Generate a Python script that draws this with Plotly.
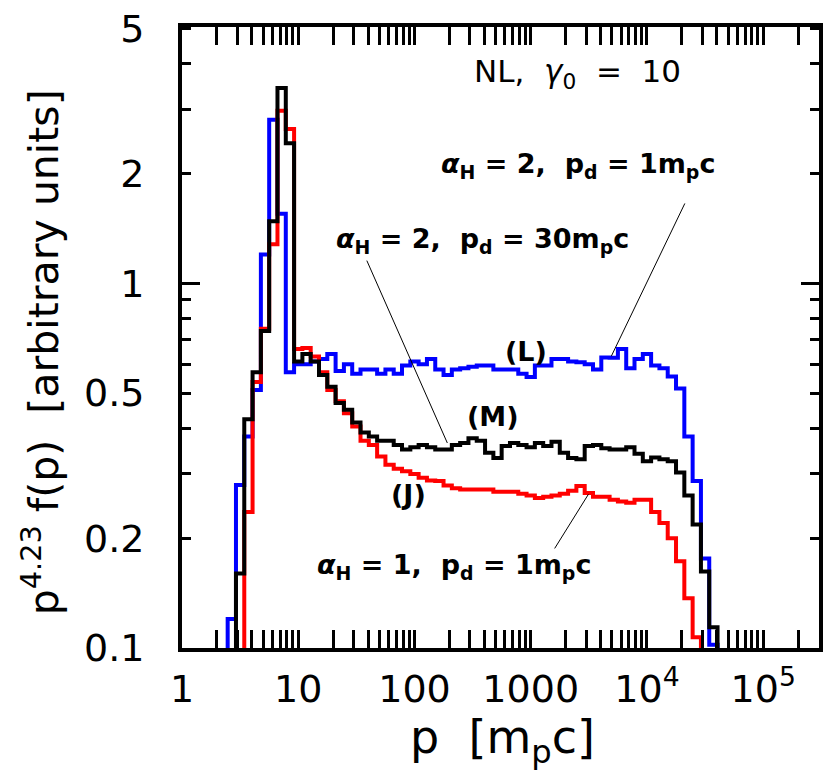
import plotly.graph_objects as go

# ---------------- data (histograms, log-uniform bins) ----------------
BINS_PER_DECADE = 14
BIN_OFFSET = 0.5          # bin edges at log10(p) = (k + 0.5) / 14
FLOOR = 0.01              # off-scale value used to close the steps

blue_start = 5   # (L) alpha_H = 2, p_d = 1 m_p c
blue_vals = [0.12, 0.28, 0.38, 0.51, 1.20, 2.81, 1.55, 0.57, 0.60, 0.60,
             0.61, 0.62, 0.64, 0.575, 0.60, 0.565, 0.58, 0.58, 0.565, 0.58,
             0.565, 0.595, 0.61, 0.60, 0.62, 0.58, 0.56, 0.58, 0.585, 0.59,
             0.595, 0.595, 0.58, 0.58, 0.58, 0.565, 0.553, 0.595, 0.595, 0.62,
             0.62, 0.61, 0.607, 0.60, 0.58, 0.626, 0.625, 0.66, 0.585, 0.62,
             0.64, 0.595, 0.585, 0.555, 0.515, 0.38, 0.287, 0.176, 0.102]

black_start = 6  # (M) alpha_H = 2, p_d = 30 m_p c
black_vals = [0.16, 0.424, 0.57, 0.74, 1.48, 3.43, 2.42, 0.61, 0.64, 0.61,
              0.56, 0.52, 0.47, 0.45, 0.415, 0.39, 0.38, 0.37, 0.37, 0.36,
              0.35, 0.355, 0.36, 0.355, 0.35, 0.35, 0.36, 0.365, 0.376, 0.37,
              0.343, 0.332, 0.358, 0.365, 0.36, 0.355, 0.365, 0.358, 0.368, 0.343,
              0.332, 0.329, 0.358, 0.36, 0.353, 0.35, 0.35, 0.355, 0.341, 0.325,
              0.333, 0.329, 0.325, 0.303, 0.262, 0.218, 0.162, 0.114]

red_start = 7    # (J) alpha_H = 1, p_d = 1 m_p c
red_vals = [0.236, 0.536, 0.75, 1.28, 2.97, 2.65, 0.66, 0.665, 0.63, 0.57,
            0.51, 0.475, 0.44, 0.405, 0.37, 0.36, 0.335, 0.318, 0.31, 0.305,
            0.30, 0.293, 0.288, 0.287, 0.279, 0.274, 0.272, 0.272, 0.272, 0.272,
            0.268, 0.268, 0.268, 0.265, 0.262, 0.258, 0.26, 0.262, 0.265, 0.27,
            0.278, 0.266, 0.26, 0.26, 0.255, 0.252, 0.25, 0.255, 0.255, 0.236,
            0.22, 0.20, 0.173, 0.137, 0.107]

x_tickvals = [1, 10, 100, 1000, 1e4, 1e5]
x_ticktext = ["1", "10", "100", "1000", "10<sup>4</sup>", "10<sup>5</sup>"]
y_tickvals = [0.1, 0.2, 0.5, 1, 2, 5]
y_ticktext = ["0.1", "0.2", "0.5", "1", "2", "5"]
x_minor = [m * 10 ** d for d in range(0, 6) for m in range(2, 10)]
y_minor = [0.3, 0.4, 0.6, 0.7, 0.8, 0.9, 3, 4]
y_decades = [0.1, 1]

X_RANGE_LOG = [0, 5.48]
Y_RANGE_LOG = [-1, 0.7027]


def steps(start, vals):
    ks = range(start - 1, start + len(vals) + 1)
    xs = [10 ** ((k + BIN_OFFSET) / BINS_PER_DECADE) for k in ks]
    ys = [FLOOR] + list(vals) + [FLOOR]
    return xs, ys


FONT = "DejaVu Sans"
fig = go.Figure()
for (start, vals, col) in [(blue_start, blue_vals, "#0000ff"),
                           (red_start, red_vals, "#ff0000"),
                           (black_start, black_vals, "#000000")]:
    xs, ys = steps(start, vals)
    fig.add_trace(go.Scatter(x=xs, y=ys, mode="lines", line_shape="hv",
                             line=dict(color=col, width=4), showlegend=False,
                             hoverinfo="skip"))

# invisible trace carrying the overlay axis with the long decade ticks
fig.add_trace(go.Scatter(x=[10], y=[1], yaxis="y2", mode="markers",
                         marker=dict(opacity=0), showlegend=False, hoverinfo="skip"))

W, H = 830, 773
L, R, T, B = 182, 7, 18, 125
pw, ph = W - L - R, H - T - B


def px(x):
    return (x - L) / pw


def py(y):
    return (H - B - y) / ph


axis_common = dict(showline=True, linecolor="black", linewidth=4, mirror="allticks",
                   ticks="inside", tickcolor="black", tickwidth=3, showgrid=False,
                   zeroline=False, ticklabeloverflow="allow")

fig.update_layout(
    width=W, height=H, margin=dict(l=L, r=R, t=T, b=B),
    paper_bgcolor="white", plot_bgcolor="white",
    font=dict(family=FONT, color="black"),
    xaxis=dict(type="log", range=X_RANGE_LOG, tickvals=x_tickvals, ticktext=x_ticktext,
               ticklen=18, tickfont=dict(size=38), ticklabelstandoff=4,
               minor=dict(tickvals=x_minor, ticks="inside", ticklen=9,
                          tickwidth=3, tickcolor="black"),
               **axis_common),
    yaxis=dict(type="log", range=Y_RANGE_LOG, tickvals=y_tickvals, ticktext=y_ticktext,
               ticklen=9, tickfont=dict(size=38), ticklabelstandoff=26,
               minor=dict(tickvals=y_minor, ticks="inside", ticklen=9,
                          tickwidth=3, tickcolor="black"),
               **axis_common),
    yaxis2=dict(type="log", range=Y_RANGE_LOG, overlaying="y", side="left",
                tickvals=y_decades, showticklabels=False, ticks="inside",
                ticklen=18, tickwidth=3, tickcolor="black", mirror="ticks",
                showline=False, showgrid=False, zeroline=False),
)

# axis titles
fig.add_annotation(text="p  [m<sub>p</sub>c]", x=px(505), y=py(742), xref="paper",
                   yref="paper", showarrow=False, xanchor="center", yanchor="middle",
                   font=dict(size=46, family=FONT))
fig.add_annotation(text="p<sup>4.23</sup> f(p)  [arbitrary units]", x=px(40), y=py(348),
                   xref="paper", yref="paper", showarrow=False, textangle=-90,
                   xanchor="center", yanchor="middle", font=dict(size=41, family=FONT))

ann_big = dict(size=31, family=FONT)
ann_b = dict(size=27, family=FONT)
texts = [
    ("NL,  <i>γ</i><sub>0</sub>  =  10", 580, 65, ann_big),
    ("<b><i>α</i><sub>H</sub> = 2,  p<sub>d</sub> = 1m<sub>p</sub>c</b>", 580, 158, ann_b),
    ("<b><i>α</i><sub>H</sub> = 2,  p<sub>d</sub> = 30m<sub>p</sub>c</b>", 484, 235, ann_b),
    ("<b>(L)</b>", 528, 347, ann_b),
    ("<b>(M)</b>", 495, 413, ann_b),
    ("<b>(J)</b>", 410, 492, ann_b),
    ("<b><i>α</i><sub>H</sub> = 1,  p<sub>d</sub> = 1m<sub>p</sub>c</b>", 456, 565, ann_b),
]
for t, x, y, f in texts:
    fig.add_annotation(text=t, x=px(x), y=py(y), xref="paper", yref="paper",
                       showarrow=False, xanchor="center", yanchor="middle", font=f)

for (x0, y0, x1, y1) in [(688, 197, 614, 352), (368, 255, 449, 440), (557, 547, 591, 492)]:
    fig.add_shape(type="line", xref="paper", yref="paper",
                  x0=px(x0), y0=py(y0), x1=px(x1), y1=py(y1),
                  line=dict(color="black", width=1))

fig.write_html("out.html")
